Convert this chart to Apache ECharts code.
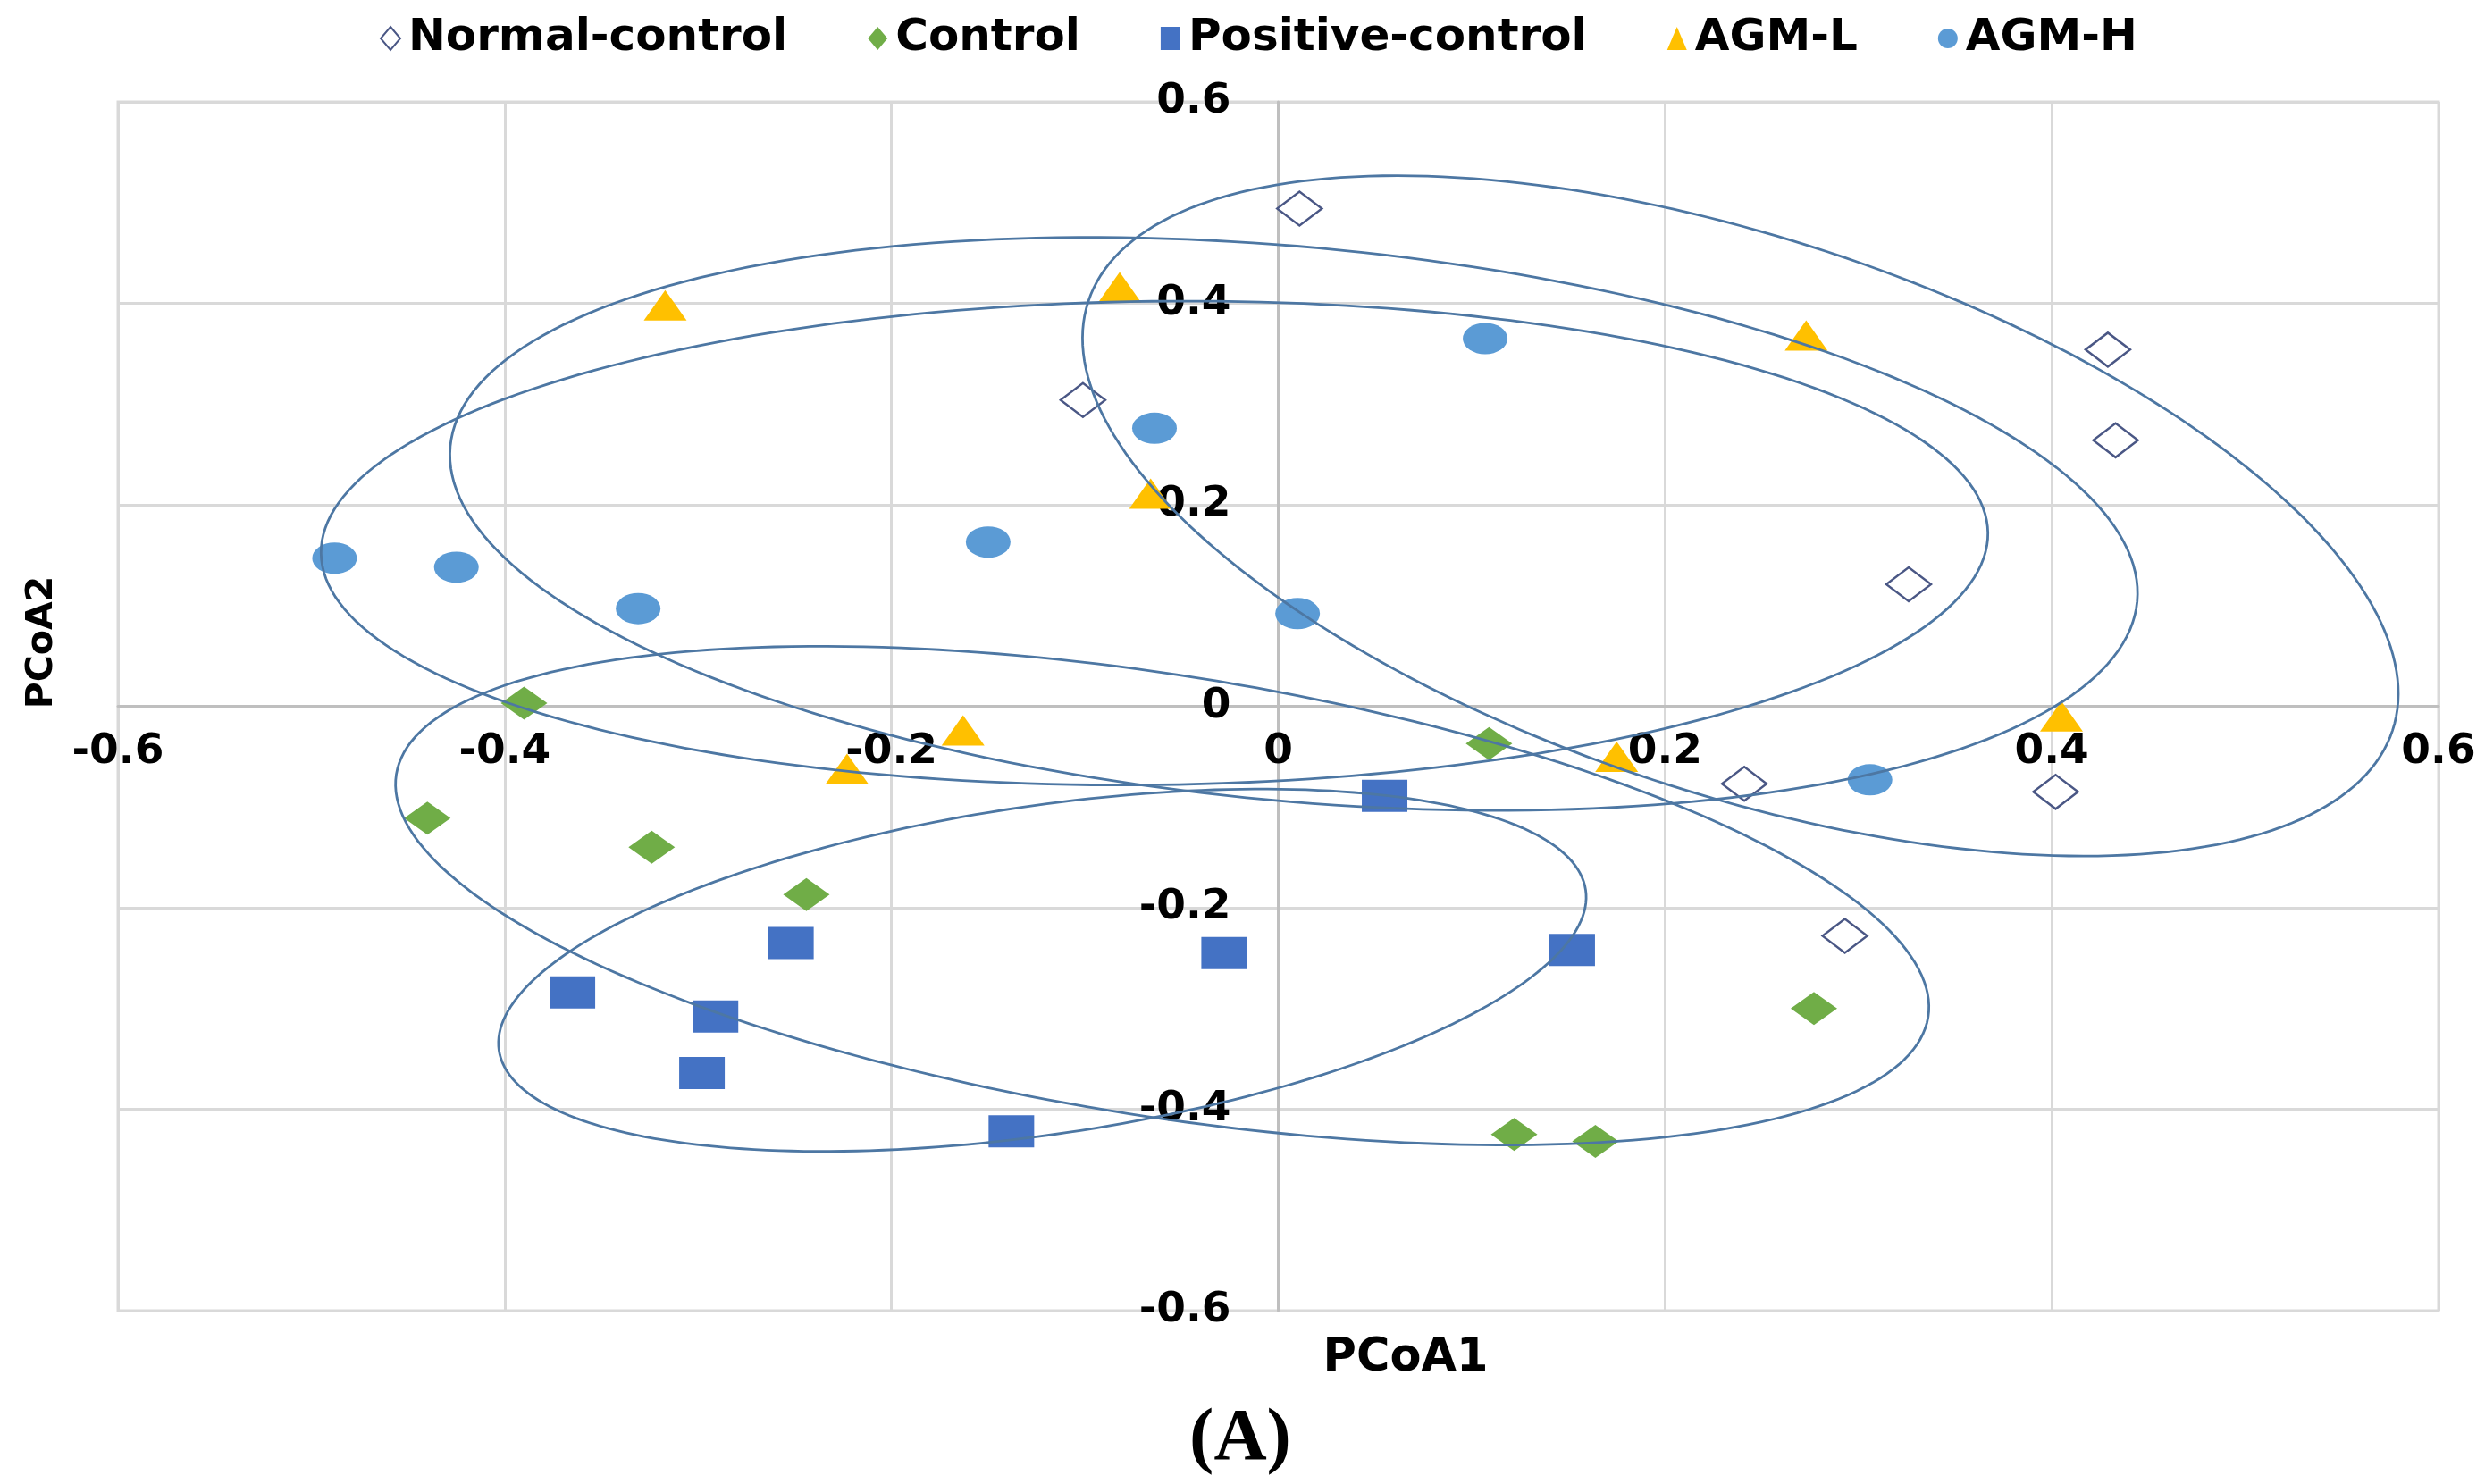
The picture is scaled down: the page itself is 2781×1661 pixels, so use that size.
<!DOCTYPE html>
<html>
<head>
<meta charset="utf-8">
<script src="https://cdn.jsdelivr.net/npm/echarts@6/dist/echarts.min.js"></script>
<style>
html,body{margin:0;padding:0;background:#fff;}
#chart{width:2781px;height:1661px;}
</style>
</head>
<body>
<div id="chart"></div>
<script>
// ---- data ----
const seriesNames = ['Normal-control', 'Control', 'Positive-control', 'AGM-L', 'AGM-H'];
const normalControl = [[0.011,0.494],[-0.101,0.304],[0.429,0.354],[0.433,0.264],[0.326,0.121],[0.241,-0.077],[0.402,-0.085],[0.293,-0.228]];
const control = [[-0.390,0.003],[-0.440,-0.111],[-0.324,-0.140],[-0.244,-0.187],[0.109,-0.037],[0.277,-0.300],[0.122,-0.425],[0.164,-0.432]];
const positiveControl = [[0.055,-0.089],[-0.252,-0.235],[-0.365,-0.284],[-0.291,-0.308],[-0.298,-0.364],[-0.028,-0.245],[0.152,-0.242],[-0.138,-0.422]];
const agmL = [[-0.317,0.398],[-0.082,0.416],[-0.066,0.211],[0.273,0.368],[-0.163,-0.024],[-0.223,-0.062],[0.175,-0.050],[0.405,-0.010]];
const agmH = [[-0.488,0.147],[-0.425,0.138],[-0.331,0.097],[-0.150,0.163],[-0.064,0.276],[0.107,0.365],[0.010,0.092],[0.306,-0.073]];
// group ellipses: centre x, centre y, semi-axis (x units), semi-axis (y units), tilt (deg)
const ellipses = [
  [-0.064, 0.162, 0.431, 0.240, -0.7],
  [ 0.008, 0.181, 0.438, 0.275,  5.25],
  [ 0.239, 0.189, 0.355, 0.276, 18.2],
  [-0.060,-0.188, 0.401, 0.219,  9.0],
  [-0.122,-0.262, 0.284, 0.163, -8.4]
];
const axisMin = -0.6, axisMax = 0.6, axisStep = 0.2;
const axisTitles = ['PCoA1', 'PCoA2'];
const panelLabel = '(A)';

const FONT = 'DejaVu Sans';
const GRID = {left: 132, right: 52, top: 114, bottom: 194};
const W = 2781, H = 1661;
const zeroX = GRID.left + (W - GRID.left - GRID.right) * (0 - axisMin) / (axisMax - axisMin);
const zeroY = GRID.top + (H - GRID.top - GRID.bottom) * (axisMax - 0) / (axisMax - axisMin);

const chart = echarts.init(document.getElementById('chart'), null, {renderer: 'canvas', width: W, height: H});
const fmt = v => String(Number(v.toFixed(1)));

function scatter(name, data, symbol, size, style) {
  return {name, type: 'scatter', data, symbol, symbolSize: size, z: 2, itemStyle: Object.assign({opacity: 1}, style)};
}

const option = {
  backgroundColor: '#ffffff',
  animation: false,
  legend: {
    data: seriesNames,
    left: 420, top: 13,
    itemWidth: 22, itemHeight: 26, itemGap: 90,
    textStyle: {fontFamily: FONT, fontWeight: 'bold', fontSize: 50, color: '#000', padding: [0,0,0,4]}
  },
  grid: Object.assign({show: true, borderColor: '#d9d9d9', borderWidth: 3, containLabel: false, outerBoundsMode: 'none'}, GRID),
  xAxis: {
    type: 'value', min: axisMin, max: axisMax, interval: axisStep,
    position: 'bottom', offset: -((H - GRID.bottom) - zeroY),
    axisLine: {show: true, onZero: false, lineStyle: {color: '#bfbfbf', width: 3}},
    axisTick: {show: false},
    axisLabel: {formatter: fmt, margin: 28, fontFamily: FONT, fontWeight: 'bold', fontSize: 47, color: '#000', showMinLabel: true, showMaxLabel: true},
    splitLine: {show: true, lineStyle: {color: '#d9d9d9', width: 3}}
  },
  yAxis: {
    type: 'value', min: axisMin, max: axisMax, interval: axisStep,
    position: 'left', offset: -(zeroX - GRID.left),
    axisLine: {show: true, onZero: false, lineStyle: {color: '#bfbfbf', width: 3}},
    axisTick: {show: false},
    axisLabel: {formatter: fmt, margin: 53, fontFamily: FONT, fontWeight: 'bold', fontSize: 47, color: '#000', showMinLabel: true, showMaxLabel: true},
    splitLine: {show: true, lineStyle: {color: '#d9d9d9', width: 3}}
  },
  graphic: [
    {type: 'text', x: 1573, y: 1521, style: {text: axisTitles[0], fontFamily: FONT, fontWeight: 'bold', fontSize: 51, fill: '#000', align: 'center', verticalAlign: 'middle'}},
    {type: 'text', x: 47, y: 719, rotation: Math.PI / 2, style: {text: axisTitles[1], fontFamily: FONT, fontWeight: 'bold', fontSize: 41, fill: '#000', align: 'center', verticalAlign: 'middle'}},
    {type: 'text', x: 1388, y: 1612, style: {text: panelLabel, fontFamily: 'Liberation Serif', fontWeight: 'bold', fontSize: 82, fill: '#000', align: 'center', verticalAlign: 'middle'}}
  ],
  series: [
    scatter('Normal-control', normalControl, 'diamond', [50, 38], {color: '#ffffff', borderColor: '#4a5785', borderWidth: 2.5}),
    scatter('Control', control, 'diamond', [52, 37], {color: '#70ad47'}),
    scatter('Positive-control', positiveControl, 'rect', [51, 36], {color: '#4472c4'}),
    scatter('AGM-L', agmL, 'triangle', [48, 34], {color: '#ffc000'}),
    scatter('AGM-H', agmH, 'circle', [50, 35], {color: '#5b9bd5'}),
    {
      name: 'ellipses', type: 'custom', data: ellipses, z: 3, silent: true,
      encode: {x: 0, y: 1},
      renderItem: function (params, api) {
        const c = api.coord([api.value(0), api.value(1)]);
        const ap = Math.abs(api.size([api.value(2), 0])[0]);
        const bp = Math.abs(api.size([0, api.value(3)])[1]);
        const th = api.value(4) * Math.PI / 180;
        const pts = [];
        for (let i = 0; i < 240; i++) {
          const t = i / 240 * Math.PI * 2;
          const lx = ap * Math.cos(t), ly = bp * Math.sin(t);
          pts.push([c[0] + lx * Math.cos(th) - ly * Math.sin(th), c[1] + lx * Math.sin(th) + ly * Math.cos(th)]);
        }
        return {type: 'polygon', shape: {points: pts}, style: {fill: 'none', stroke: '#4d77a3', lineWidth: 2.8}};
      }
    }
  ]
};
chart.setOption(option);
</script>
</body>
</html>
